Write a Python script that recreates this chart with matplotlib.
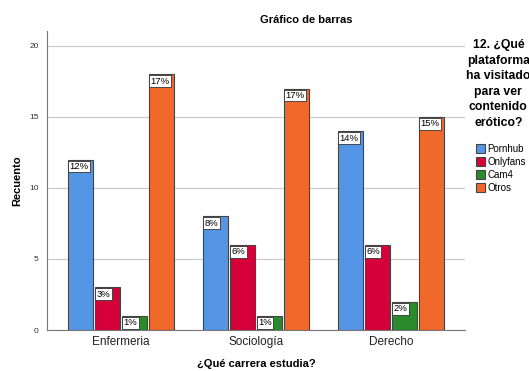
import numpy as np
import matplotlib
matplotlib.use('Agg')
import matplotlib.pyplot as plt

carreras = ['Enfermeria', 'Sociología', 'Derecho']
plataformas = ['Pornhub', 'Onlyfans', 'Cam4', 'Otros']
recuento = {
    'Pornhub': [12, 8, 14],
    'Onlyfans': [3, 6, 6],
    'Cam4': [1, 1, 2],
    'Otros': [18, 17, 15],
}
etiquetas = {
    'Pornhub': ['12%', '8%', '14%'],
    'Onlyfans': ['3%', '6%', '6%'],
    'Cam4': ['1%', '1%', '2%'],
    'Otros': ['17%', '17%', '15%'],
}
colores = ['#5595E5', '#D5003A', '#2B8A2B', '#F0692A']

plt.rcParams['font.family'] = ['Liberation Sans', 'DejaVu Sans']

fig = plt.figure(figsize=(5.29, 3.71), dpi=100)
ax = fig.add_axes([0.0888, 0.1105, 0.790, 0.806])

x = np.arange(len(carreras))
paso = 0.2
ancho = 0.185

for i, plat in enumerate(plataformas):
    pos = x + (i - 1.5) * paso
    ax.bar(pos, recuento[plat], width=ancho, color=colores[i],
           edgecolor='#444444', linewidth=0.8, label=plat, zorder=3)
    for px, val, txt in zip(pos, recuento[plat], etiquetas[plat]):
        ax.annotate(txt, xy=(px - ancho / 2, val), xytext=(1.0, -1.8),
                    textcoords='offset points', ha='left', va='top',
                    fontsize=6.8, zorder=5,
                    bbox=dict(boxstyle='square,pad=0.15', fc='white',
                              ec='#333333', lw=0.6))

ax.set_xlim(-0.548, 2.548)
ax.set_ylim(0, 21.05)
ax.set_yticks([0, 5, 10, 15, 20])
ax.set_xticks(x)
ax.set_xticklabels(carreras, fontsize=8.5, color='#222222')
ax.tick_params(axis='y', labelsize=6, colors='#333333', length=0, pad=6)
ax.tick_params(axis='x', length=0, pad=4)
ax.yaxis.grid(True, color='#C8C8C8', linewidth=0.8, zorder=0)
ax.set_axisbelow(True)
for s in ['top', 'right']:
    ax.spines[s].set_visible(False)
for s in ['left', 'bottom']:
    ax.spines[s].set_color('#777777')
    ax.spines[s].set_linewidth(0.8)

ax.set_ylabel('Recuento', fontsize=8, fontweight='bold', labelpad=5)
ax.set_xlabel('¿Qué carrera estudia?', fontsize=8, fontweight='bold', labelpad=8)
fig.text(0.578, 0.945, 'Gráfico de barras', ha='center', va='center',
         fontsize=8, fontweight='bold')

# titulo de la leyenda (recortado por la derecha como en el original)
fig.text(0.942, 0.895, '12. ¿Qué\nplataforma\nha visitado\npara ver\ncontenido\nerótico?',
         ha='center', va='top', fontsize=8.8, fontweight='bold',
         multialignment='center', linespacing=1.4)

leg = fig.legend(*ax.get_legend_handles_labels(), loc='upper left',
                 bbox_to_anchor=(0.899, 0.612),
                 frameon=False, fontsize=7, handlelength=1.0, handleheight=1.0,
                 handletextpad=0.2, labelspacing=0.3, borderaxespad=0,
                 borderpad=0)

fig.savefig('out.png', dpi=100)
